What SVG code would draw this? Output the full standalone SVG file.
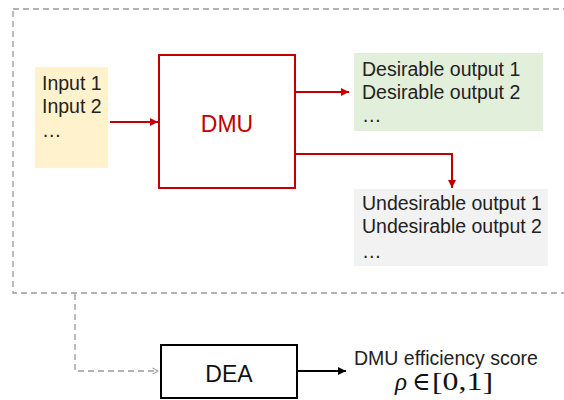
<svg xmlns="http://www.w3.org/2000/svg" width="564" height="400" viewBox="0 0 564 400">
<style>
.t{font-family:"Liberation Sans",Arial,sans-serif;font-size:19.5px;fill:#222}
.big{font-family:"Liberation Sans",Arial,sans-serif;font-size:23px;text-anchor:middle}
.red{stroke:#c00000;stroke-width:2;fill:none}
.dash{stroke:#999;stroke-width:1.3;fill:none;stroke-dasharray:6,4}
.m{font-family:"Liberation Serif","DejaVu Serif",serif;font-size:25px;fill:#111}
</style>
<defs>
<marker id="ar" viewBox="0 0 10 10" refX="10" refY="5" markerWidth="4" markerHeight="4" orient="auto"><path d="M0,0L10,5L0,10z" fill="#c00000"/></marker>
<marker id="ab" viewBox="0 0 10 10" refX="10" refY="5" markerWidth="4" markerHeight="4" orient="auto"><path d="M0,0L10,5L0,10z" fill="#000"/></marker>
<marker id="ag" viewBox="0 0 10 10" refX="9" refY="5" markerWidth="6" markerHeight="6" orient="auto"><path d="M2,1L9,5L2,9" fill="none" stroke="#999" stroke-width="1.3"/></marker>
</defs>
<rect x="13" y="9" width="560" height="284" class="dash"/>
<g id="inputs">
<rect x="35" y="67" width="73" height="101" fill="#fff2cc"/>
<text class="t" x="42" y="90">Input 1</text>
<text class="t" x="42" y="113">Input 2</text>
<text class="t" x="42" y="137" letter-spacing="1">…</text>
</g>
<g id="dmu">
<rect x="159" y="55" width="136" height="133" class="red"/>
<text class="big" x="227" y="132" fill="#c00000">DMU</text>
</g>
<g id="desirable">
<rect x="354" y="53" width="189" height="78" fill="#e2efda"/>
<text class="t" x="362" y="76">Desirable output 1</text>
<text class="t" x="362" y="99">Desirable output 2</text>
<text class="t" x="362" y="122">…</text>
</g>
<g id="undesirable">
<rect x="354" y="189" width="194" height="77" fill="#f2f2f2"/>
<text class="t" x="362" y="210">Undesirable output 1</text>
<text class="t" x="362" y="233">Undesirable output 2</text>
<text class="t" x="362" y="258">…</text>
</g>
<g id="dea">
<rect x="161" y="345" width="136" height="53" fill="none" stroke="#000" stroke-width="2"/>
<text class="big" x="229" y="382" fill="#111">DEA</text>
</g>
<g id="score">
<text class="t" x="354" y="365">DMU efficiency score</text>
<text class="m" y="390"><tspan x="395" font-style="italic">ρ</tspan><tspan x="412">∈</tspan></text>
<text class="m" x="432" y="390" textLength="61" lengthAdjust="spacingAndGlyphs">[0,1]</text>
</g>
<g id="connectors">
<line x1="110" y1="122" x2="158" y2="122" class="red" marker-end="url(#ar)"/>
<line x1="295" y1="92" x2="349" y2="92" class="red" marker-end="url(#ar)"/>
<polyline points="295,154 452,154 452,188" class="red" marker-end="url(#ar)"/>
<polyline points="75,294 75,371 158,371" class="dash" marker-end="url(#ag)"/>
<line x1="297" y1="371" x2="346" y2="371" stroke="#000" stroke-width="2" marker-end="url(#ab)"/>
</g>
</svg>
